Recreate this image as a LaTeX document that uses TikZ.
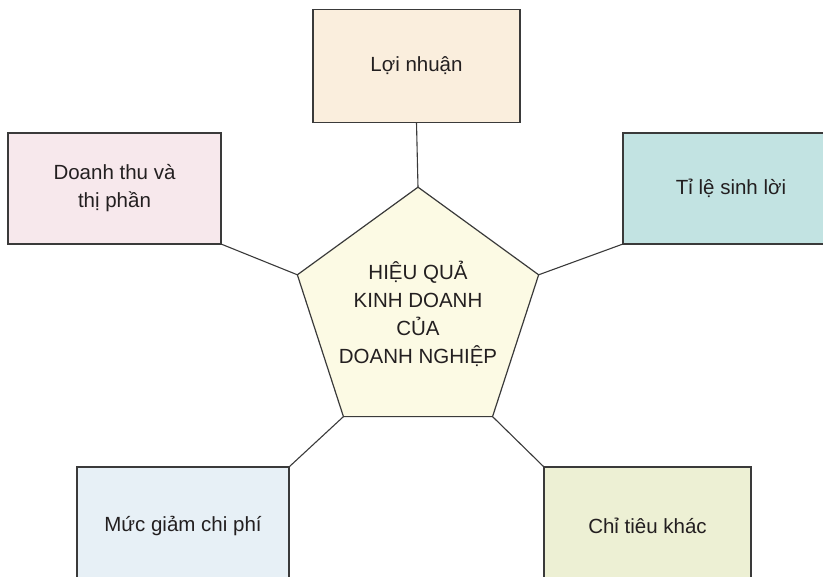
\documentclass[tikz,border=0pt]{standalone}
\usepackage{fontspec}
\setmainfont{Liberation Sans}
\usetikzlibrary{shapes.geometric, positioning}
\definecolor{txtgray}{HTML}{231F20}
\definecolor{linegray}{HTML}{3A3A3A}
\definecolor{fillprofit}{HTML}{FAEEDD}
\definecolor{fillrevenue}{HTML}{F7E8EC}
\definecolor{fillrate}{HTML}{C2E3E2}
\definecolor{fillcost}{HTML}{E7F0F6}
\definecolor{fillother}{HTML}{EDF0D4}
\definecolor{fillcore}{HTML}{FCFAE4}

\begin{document}
\begin{tikzpicture}[x=1pt, y=-1pt, semithick,
    every node/.style={text=txtgray, font=\fontsize{20.5}{28}\selectfont},
    box/.style={draw=linegray, line width=1.2pt, rectangle, minimum height=111pt, align=center, inner sep=0pt, outer sep=0pt},
    core/.style={draw=linegray, line width=1.2pt, regular polygon, regular polygon sides=5, minimum size=232pt, inner sep=-6.6pt, outer sep=0pt, fill=fillcore, align=center},
    link/.style={draw=linegray, line width=1.1pt}]
    \useasboundingbox (0,0) rectangle (823,577);
    \clip (0,0) rectangle (823,577);

    \node[core] (core) at (418,314) {HIỆU QUẢ\\KINH DOANH\\CỦA\\DOANH NGHIỆP};

    \node[box, fill=fillprofit, minimum width=207pt, minimum height=113pt] (profit) at (416.5,66) {Lợi nhuận};
    \node[box, fill=fillrevenue, minimum width=213pt] (revenue) at (114.5,188.5) {Doanh thu và\\thị phần};
    \node[box, fill=fillrate, minimum width=216pt] (rate) at (731,188.5) {Tỉ lệ sinh lời};
    \node[box, fill=fillcost, minimum width=212pt, minimum height=117pt] (cost) at (183,525.5) {Mức giảm chi phí};
    \node[box, fill=fillother, minimum width=207pt, minimum height=117pt] (other) at (647.5,525.5) {Chỉ tiêu khác};

    \path[link]
    (profit.south) edge (core.corner 1)
    (revenue.south east) edge (core.corner 2)
    (rate.south west) edge (core.corner 5)
    (cost.north east) edge (core.corner 3)
    (other.north west) edge (core.corner 4);
\end{tikzpicture}
\end{document}
